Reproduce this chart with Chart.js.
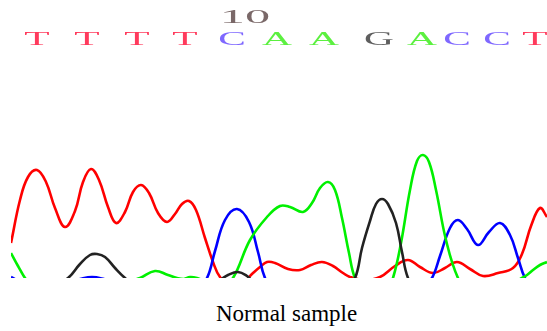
<!DOCTYPE html>
<html>
<head>
<meta charset="utf-8">
<script src="https://cdn.jsdelivr.net/npm/chart.js@4"></script>
<style>
  body { margin: 0; background: #fff; width: 547px; height: 331px; overflow: hidden; position: relative; }
  #wrap { position: absolute; left: 0; top: 0; width: 547px; height: 280px; }
  #caption { position: absolute; left: 216px; top: 300px; font-family: "Liberation Serif", "Times New Roman", serif; font-size: 23px; line-height: 28px; color: #000; white-space: nowrap; }
</style>
</head>
<body>
<div id="wrap"><canvas id="trace"></canvas></div>
<div id="caption">Normal sample</div>
<script>
// Base calls and where they sit along the scan axis
const baseCalls = ['T', 'T', 'T', 'T', 'C', 'A', 'A', 'G', 'A', 'C', 'C', 'T'];
const basePos = [37, 87, 137, 185, 232, 277, 324, 379, 422, 457, 497, 535];
const numberLabels = ['10'];
const numberPos = [245];

// Trace samples [scan, intensity]
const redTrace = [[11,35],[20,78],[28,101],[37,108],[46,96],[55,70],[65,51],[75,67],[83,96],[91,109],[99,98],[108,71],[116,55],[125,66],[133,86],[141,93],[149,85],[158,65],[167,56],[175,64],[182,74],[189,77],[196,68],[205,40],[213,16],[220,1],[230,-6],[240,-7],[253,5],[260,11],[267,16],[275,15],[288,9],[300,8],[311,13],[322,16],[333,12],[343,5],[350,1],[365,-2],[380,1],[395,12],[408,18],[420,11],[433,5],[445,10],[457,16],[470,9],[483,2],[498,5],[513,10],[522,24],[531,52],[540,70],[547,61]];
const blueTrace = [[11,1],[30,-8],[60,-6],[80,-1],[92,1],[104,-1],[130,-8],[180,-10],[200,-4],[207,0],[215,27],[225,58],[237,69],[249,56],[258,26],[265,0],[275,-15],[320,-25],[400,-20],[425,-4],[432,0],[440,22],[450,50],[458,58],[467,49],[478,33],[489,46],[500,55],[510,43],[518,20],[525,0],[535,-12],[547,-15]];
const greenTrace = [[11,25],[18,12],[25,0],[35,-12],[60,-15],[100,-12],[130,-3],[140,0],[155,7],[168,3],[177,0],[184,-1],[190,1],[197,0],[210,-5],[225,-3],[233,0],[250,38],[267,61],[280,72],[290,71],[303,66],[312,75],[320,90],[328,96],[335,88],[342,60],[349,25],[355,0],[365,-15],[380,-20],[388,-8],[393,0],[401,35],[410,88],[417,117],[423,123],[429,116],[436,88],[446,38],[458,0],[470,-15],[500,-15],[520,-1],[527,3],[533,8],[540,13],[547,16]];
const blackTrace = [[11,-30],[50,-10],[68,0],[80,14],[90,23],[97,24],[105,21],[115,10],[125,0],[140,-12],[200,-12],[220,-2],[228,3],[238,6],[247,2],[255,-5],[300,-25],[345,-10],[355,0],[362,30],[370,57],[376,74],[382,79],[388,74],[396,55],[402,26],[408,0],[420,-20],[547,-30]];

const baseColors = { T: '#ff3a5c', C: '#7f68ff', A: '#5cf040', G: '#5e5e5e' };

function toPoints(trace) {
    return trace.map(p => ({ x: p[0], y: p[1] }));
}

function traceSet(trace, color) {
    return {
        data: toPoints(trace),
        borderColor: color,
        borderWidth: 2.6,
        pointRadius: 0,
        fill: false,
        tension: 0.4,
        clip: 0
    };
}

// Draw the base letters and position numbers above the traces
const basePlugin = {
    id: 'baseLetters',
    afterDraw(chart) {
        const ctx = chart.ctx;
        const x = chart.scales.x;
        ctx.save();
        ctx.textAlign = 'center';
        ctx.textBaseline = 'alphabetic';
        ctx.font = '18px "Liberation Serif", serif';
        baseCalls.forEach((b, i) => {
            const px = x.getPixelForValue(basePos[i]);
            ctx.save();
            ctx.translate(px, 45);
            ctx.scale(2.3, 1);
            ctx.fillStyle = baseColors[b];
            ctx.fillText(b, 0, 0);
            ctx.restore();
        });
        numberLabels.forEach((t, i) => {
            const px = x.getPixelForValue(numberPos[i]);
            ctx.save();
            ctx.translate(px, 23);
            ctx.scale(2.8, 1);
            ctx.fillStyle = '#7a6868';
            ctx.fillText(t, 0, 0);
            ctx.restore();
        });
        ctx.restore();
    }
};

new Chart(document.getElementById('trace'), {
    type: 'line',
    data: {
        datasets: [
            traceSet(blackTrace, '#222222'),
            traceSet(greenTrace, '#00f000'),
            traceSet(blueTrace, '#0000ff'),
            traceSet(redTrace, '#ff0000')
        ]
    },
    options: {
        responsive: true,
        maintainAspectRatio: false,
        animation: false,
        layout: { padding: { left: 11, right: 0, top: 60, bottom: 2 } },
        scales: {
            x: { type: 'linear', min: 11, max: 547, display: false },
            y: { min: 0, max: 218, display: false }
        },
        plugins: {
            legend: { display: false },
            tooltip: { enabled: false }
        }
    },
    plugins: [basePlugin]
});
</script>
</body>
</html>
